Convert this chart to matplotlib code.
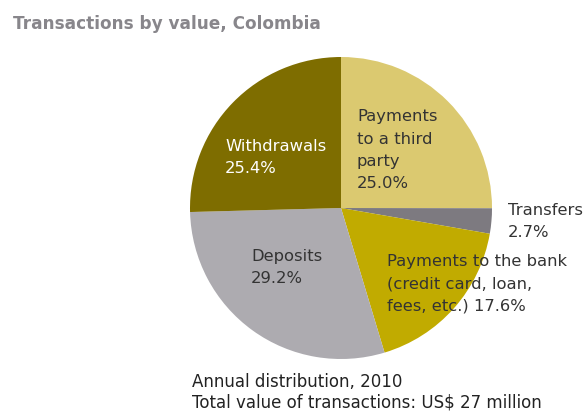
import matplotlib.pyplot as plt

# slices in clockwise order, starting from twelve o'clock
labels = ["Payments\nto a third\nparty", "Transfers", "Payments to the bank\n(credit card, loan,\nfees, etc.)",
          "Deposits", "Withdrawals"]
shares = [25.0, 2.7, 17.6, 29.2, 25.4]
colors = ["#dbc970", "#7d7a80", "#c1ab00", "#adabb0", "#7e6d00"]

W, H = 586, 412
LINE = 22.3  # pixels between label lines

fig = plt.figure(figsize=(W / 100, H / 100), dpi=100)
ax = fig.add_axes([0, 0, 1, 1])

cx, cy, r = 341, H - 208, 151
ax.pie(shares, colors=colors, startangle=90, counterclock=False,
       center=(cx, cy), radius=r, frame=True,
       wedgeprops=dict(linewidth=0))
ax.set_xlim(0, W)
ax.set_ylim(0, H)
ax.set_aspect("equal")
ax.axis("off")


def lbl(x, y, i, color="#333333", inline=False):
    # y is the baseline of the first line, counted from the top
    sep = " " if inline else "\n"
    txt = labels[i] + sep + "{:.1f}%".format(shares[i])
    n = txt.count("\n")
    ax.text(x, H - (y + n * LINE), txt, fontsize=11.8, color=color, ha="left",
            va="baseline", linespacing=1.6)


lbl(357, 121, 0)
lbl(508, 215, 1)
lbl(387, 266, 2, inline=True)
lbl(251, 261, 3)
lbl(225, 151, 4, color="white")

ax.text(13, H - 29, "Transactions by value, Colombia", fontsize=12.2, fontweight="bold",
        color="#88868b", ha="left", va="baseline")
ax.text(192, H - 408, "Annual distribution, 2010\nTotal value of transactions: US$ 27 million",
        fontsize=12, color="#222222", ha="left", va="baseline", linespacing=1.18)

fig.savefig("out.png", dpi=100)
